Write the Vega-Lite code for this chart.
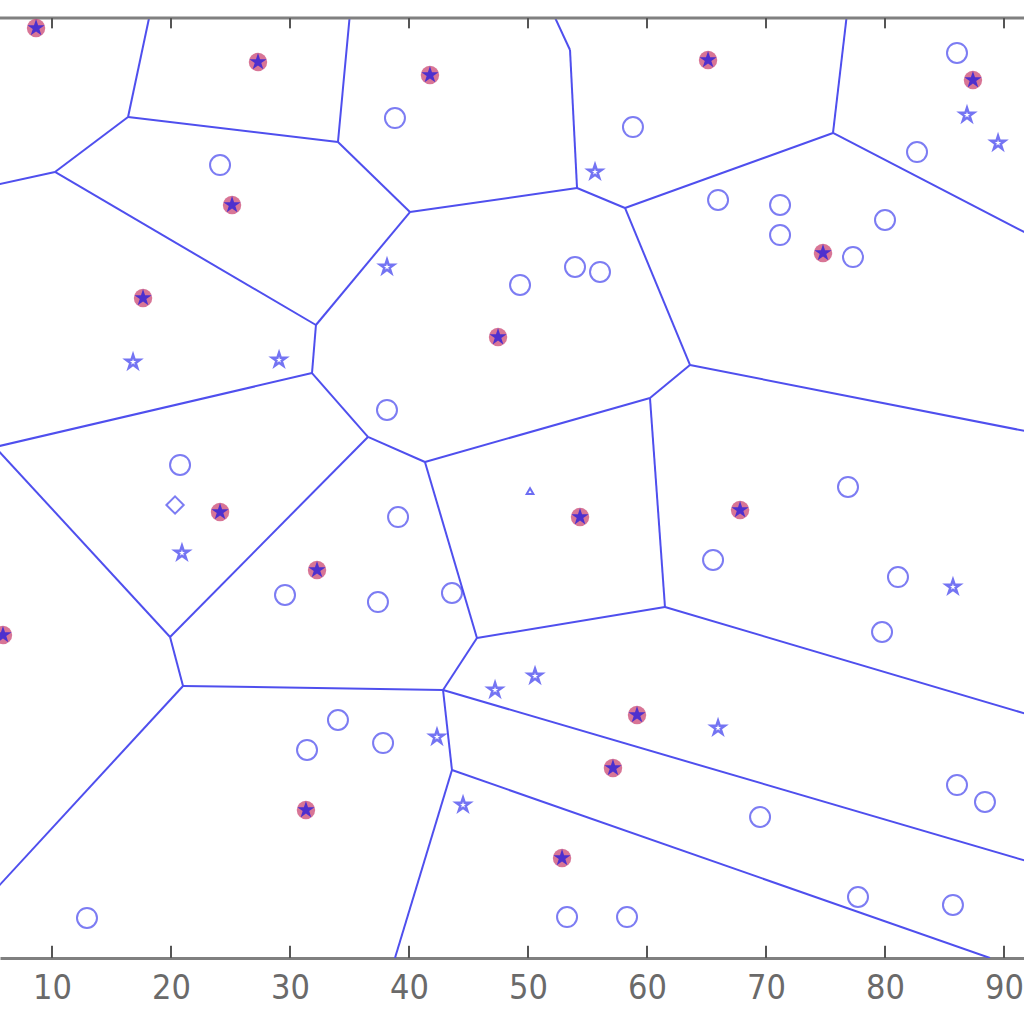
{
  "$schema": "https://vega.github.io/schema/vega-lite/v6.json",
  "width": 1024,
  "height": 940,
  "autosize": "none",
  "padding": {"left": 0, "right": 0, "top": 18, "bottom": 66},
  "background": "#ffffff",
  "config": {"view": {"stroke": null}},
  "datasets": {
    "edges": [
      {"x1": 18.24, "y1": 100.5, "x2": 16.39, "y2": 89.47},
      {"x1": 16.39, "y1": 89.47, "x2": 34.03, "y2": 86.81},
      {"x1": 35.04, "y1": 100.5, "x2": 34.03, "y2": 86.81},
      {"x1": 16.39, "y1": 89.47, "x2": 10.25, "y2": 83.62},
      {"x1": 10.25, "y1": 83.62, "x2": 5.21, "y2": 82.23},
      {"x1": 10.25, "y1": 83.62, "x2": 32.18, "y2": 67.34},
      {"x1": 34.03, "y1": 86.81, "x2": 40.08, "y2": 79.36},
      {"x1": 40.08, "y1": 79.36, "x2": 32.18, "y2": 67.34},
      {"x1": 40.08, "y1": 79.36, "x2": 54.12, "y2": 81.91},
      {"x1": 54.12, "y1": 81.91, "x2": 53.53, "y2": 96.6},
      {"x1": 53.53, "y1": 96.6, "x2": 52.1, "y2": 100.5},
      {"x1": 54.12, "y1": 81.91, "x2": 58.15, "y2": 79.79},
      {"x1": 58.15, "y1": 79.79, "x2": 75.63, "y2": 87.77},
      {"x1": 75.63, "y1": 87.77, "x2": 76.81, "y2": 100.5},
      {"x1": 75.63, "y1": 87.77, "x2": 92.18, "y2": 76.91},
      {"x1": 58.15, "y1": 79.79, "x2": 63.61, "y2": 63.09},
      {"x1": 63.61, "y1": 63.09, "x2": 92.18, "y2": 55.96},
      {"x1": 63.61, "y1": 63.09, "x2": 60.25, "y2": 59.57},
      {"x1": 60.25, "y1": 59.57, "x2": 41.34, "y2": 52.77},
      {"x1": 60.25, "y1": 59.57, "x2": 61.51, "y2": 37.34},
      {"x1": 61.51, "y1": 37.34, "x2": 45.71, "y2": 34.04},
      {"x1": 61.51, "y1": 37.34, "x2": 92.18, "y2": 25.85},
      {"x1": 45.71, "y1": 34.04, "x2": 41.34, "y2": 52.77},
      {"x1": 41.34, "y1": 52.77, "x2": 36.55, "y2": 55.43},
      {"x1": 36.55, "y1": 55.43, "x2": 31.85, "y2": 62.23},
      {"x1": 36.55, "y1": 55.43, "x2": 19.92, "y2": 34.15},
      {"x1": 32.18, "y1": 67.34, "x2": 31.85, "y2": 62.23},
      {"x1": 31.85, "y1": 62.23, "x2": 5.21, "y2": 54.36},
      {"x1": 5.21, "y1": 54.36, "x2": 19.92, "y2": 34.15},
      {"x1": 19.92, "y1": 34.15, "x2": 21.01, "y2": 28.94},
      {"x1": 21.01, "y1": 28.94, "x2": 5.21, "y2": 7.23},
      {"x1": 21.01, "y1": 28.94, "x2": 42.86, "y2": 28.51},
      {"x1": 42.86, "y1": 28.51, "x2": 45.71, "y2": 34.04},
      {"x1": 42.86, "y1": 28.51, "x2": 92.18, "y2": 10.21},
      {"x1": 42.86, "y1": 28.51, "x2": 43.61, "y2": 20.0},
      {"x1": 43.61, "y1": 20.0, "x2": 38.82, "y2": 0},
      {"x1": 43.61, "y1": 20.0, "x2": 88.82, "y2": 0}
    ],
    "ticks": [{"t": 10}, {"t": 20}, {"t": 30}, {"t": 40}, {"t": 50}, {"t": 60}, {"t": 70}, {"t": 80}, {"t": 90}],
    "centroids": [
      {"x": 8.66, "y": 98.94},
      {"x": 27.31, "y": 95.32},
      {"x": 41.76, "y": 93.94},
      {"x": 65.13, "y": 95.53},
      {"x": 87.39, "y": 93.4},
      {"x": 25.13, "y": 80.11},
      {"x": 74.79, "y": 75.0},
      {"x": 17.65, "y": 70.21},
      {"x": 47.48, "y": 66.06},
      {"x": 24.12, "y": 47.45},
      {"x": 54.37, "y": 46.91},
      {"x": 67.82, "y": 47.66},
      {"x": 32.27, "y": 41.28},
      {"x": 5.88, "y": 34.36},
      {"x": 59.16, "y": 25.85},
      {"x": 57.14, "y": 20.21},
      {"x": 31.34, "y": 15.74},
      {"x": 52.86, "y": 10.64}
    ],
    "circles": [
      {"x": 86.05, "y": 96.28},
      {"x": 38.82, "y": 89.36},
      {"x": 58.82, "y": 88.4},
      {"x": 24.12, "y": 84.36},
      {"x": 82.69, "y": 85.74},
      {"x": 65.97, "y": 80.64},
      {"x": 71.18, "y": 80.11},
      {"x": 71.18, "y": 76.91},
      {"x": 80.0, "y": 78.51},
      {"x": 77.31, "y": 74.57},
      {"x": 49.33, "y": 71.6},
      {"x": 53.95, "y": 73.51},
      {"x": 56.05, "y": 72.98},
      {"x": 38.15, "y": 58.3},
      {"x": 20.76, "y": 52.45},
      {"x": 76.89, "y": 50.11},
      {"x": 39.08, "y": 46.91},
      {"x": 65.55, "y": 42.34},
      {"x": 81.09, "y": 40.53},
      {"x": 29.58, "y": 38.62},
      {"x": 37.39, "y": 37.87},
      {"x": 43.61, "y": 38.83},
      {"x": 79.75, "y": 34.68},
      {"x": 34.03, "y": 25.32},
      {"x": 31.43, "y": 22.13},
      {"x": 37.82, "y": 22.87},
      {"x": 86.05, "y": 18.4},
      {"x": 88.4, "y": 16.6},
      {"x": 69.5, "y": 15.0},
      {"x": 77.73, "y": 6.49},
      {"x": 85.71, "y": 5.64},
      {"x": 12.94, "y": 4.26},
      {"x": 53.28, "y": 4.36},
      {"x": 58.32, "y": 4.36}
    ],
    "stars": [
      {"x": 86.89, "y": 89.68},
      {"x": 89.5, "y": 86.7},
      {"x": 55.63, "y": 83.62},
      {"x": 38.15, "y": 73.51},
      {"x": 16.81, "y": 63.4},
      {"x": 29.08, "y": 63.62},
      {"x": 20.92, "y": 43.09},
      {"x": 85.71, "y": 39.47},
      {"x": 50.59, "y": 30.0},
      {"x": 47.23, "y": 28.51},
      {"x": 65.97, "y": 24.47},
      {"x": 42.35, "y": 23.51},
      {"x": 44.54, "y": 16.28}
    ],
    "diamonds": [{"x": 20.34, "y": 48.19}],
    "tiny": [{"x": 50.17, "y": 49.57}]
  },
  "layer": [
    {
      "data": {"name": "edges"},
      "mark": {"type": "rule", "color": "#4f4fee", "strokeWidth": 2, "clip": true},
      "encoding": {
        "x": {"field": "x1", "type": "quantitative",
              "scale": {"domain": [5.63, 91.68], "nice": false, "zero": false},
              "axis": {"orient": "bottom", "values": [10, 20, 30, 40, 50, 60, 70, 80, 90], "title": null, "grid": false,
                       "domainColor": "#808080", "domainWidth": 3, "ticks": false, "tickSize": 0,
                       "labelPadding": 13, "labelColor": "#6a6a6a", "labelFont": "DejaVu Sans Condensed, DejaVu Sans", "labelFontSize": 34,
                       "labelBaseline": "top", "labelFlush": false}},
        "y": {"field": "y1", "type": "quantitative", "scale": {"domain": [0, 100], "nice": false, "zero": false}, "axis": null},
        "x2": {"field": "x2"},
        "y2": {"field": "y2"}
      }
    },
    {
      "data": {"values": [{"a": 1}]},
      "mark": {"type": "rule", "color": "#808080", "strokeWidth": 3},
      "encoding": {"y": {"datum": 100, "type": "quantitative"}}
    },
    {
      "data": {"name": "ticks"},
      "mark": {"type": "rule", "color": "#555555", "strokeWidth": 2},
      "encoding": {
        "x": {"field": "t", "type": "quantitative"},
        "y": {"datum": 100, "type": "quantitative"},
        "y2": {"datum": 98.9}
      }
    },
    {
      "data": {"name": "ticks"},
      "mark": {"type": "rule", "color": "#555555", "strokeWidth": 2},
      "encoding": {
        "x": {"field": "t", "type": "quantitative"},
        "y": {"datum": 0, "type": "quantitative"},
        "y2": {"datum": 1.3}
      }
    },
    {
      "data": {"name": "circles"},
      "mark": {"type": "point", "shape": "circle", "filled": false, "color": "#4646ee", "strokeWidth": 2, "size": 400},
      "encoding": {
        "x": {"field": "x", "type": "quantitative"},
        "y": {"field": "y", "type": "quantitative"}
      }
    },
    {
      "data": {"name": "diamonds"},
      "mark": {"type": "point", "shape": "M0,-1L1,0L0,1L-1,0Z", "filled": false, "stroke": "#4646ee", "strokeWidth": 2, "size": 300},
      "encoding": {
        "x": {"field": "x", "type": "quantitative"},
        "y": {"field": "y", "type": "quantitative"}
      }
    },
    {
      "data": {"name": "tiny"},
      "mark": {"type": "point", "shape": "M0,-1L0.866,0.5L-0.866,0.5Z", "filled": false, "stroke": "#3030ee", "strokeWidth": 2, "size": 60},
      "encoding": {
        "x": {"field": "x", "type": "quantitative"},
        "y": {"field": "y", "type": "quantitative"}
      }
    },
    {
      "data": {"name": "centroids"},
      "mark": {"type": "point", "shape": "circle", "filled": true, "fill": "#c83a6a", "stroke": null, "size": 340},
      "encoding": {
        "x": {"field": "x", "type": "quantitative"},
        "y": {"field": "y", "type": "quantitative"}
      }
    },
    {
      "data": {"name": "stars"},
      "mark": {"type": "point", "shape": "M0,-1L0.2245,-0.309L0.951,-0.309L0.363,0.118L0.588,0.809L0,0.382L-0.588,0.809L-0.363,0.118L-0.951,-0.309L-0.2245,-0.309Z", "filled": false, "stroke": "#3a3aee", "strokeWidth": 2.5, "size": 210},
      "encoding": {
        "x": {"field": "x", "type": "quantitative"},
        "y": {"field": "y", "type": "quantitative"}
      }
    },
    {
      "data": {"name": "centroids"},
      "mark": {"type": "point", "shape": "M0,-1L0.2245,-0.309L0.951,-0.309L0.363,0.118L0.588,0.809L0,0.382L-0.588,0.809L-0.363,0.118L-0.951,-0.309L-0.2245,-0.309Z", "filled": true, "fill": "#1212e6", "stroke": null, "size": 330},
      "encoding": {
        "x": {"field": "x", "type": "quantitative"},
        "y": {"field": "y", "type": "quantitative"}
      }
    }
  ]
}
